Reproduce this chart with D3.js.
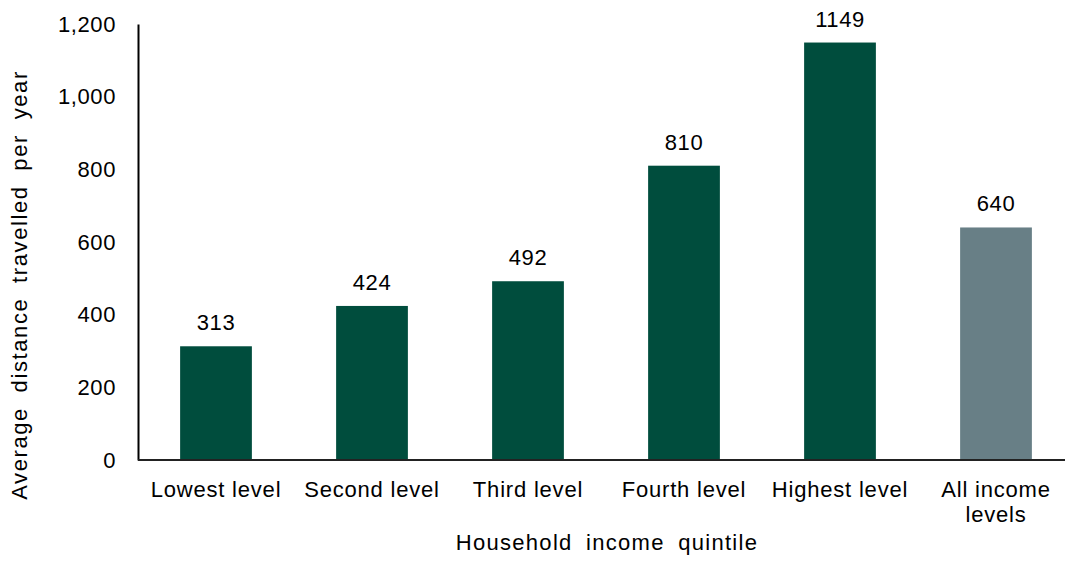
<!DOCTYPE html>
<html>
<head>
<meta charset="utf-8">
<script src="https://cdn.jsdelivr.net/npm/d3@7"></script>
<style>
  html, body { margin: 0; padding: 0; background: #fff; }
  text { font-family: "Liberation Sans", Arial, sans-serif; fill: #000; }
</style>
</head>
<body>
<svg id="chart" width="1065" height="561"></svg>
<script>
// Average distance travelled per year by household income quintile
const categories = ["Lowest level", "Second level", "Third level", "Fourth level", "Highest level", "All income levels"];
const categoryLines = [["Lowest level"], ["Second level"], ["Third level"], ["Fourth level"], ["Highest level"], ["All income", "levels"]];
const values = [313, 424, 492, 810, 1149, 640];
const yTicks = [0, 200, 400, 600, 800, 1000, 1200];

const svg = d3.select("#chart");
const plotLeft = 138, plotRight = 1074, plotTop = 24, plotBottom = 460;
const fontSize = 22;

const x = d3.scaleBand()
  .domain(categories)
  .range([plotLeft, plotRight])
  .paddingInner(0.54)
  .paddingOuter(0.27);

const y = d3.scaleLinear().domain([0, 1200]).range([plotBottom, plotTop]);

const barColor = (d, i) => i === categories.length - 1 ? "#687f86" : "#004d3d";

// bars
svg.append("g").selectAll("rect")
  .data(values)
  .join("rect")
  .attr("x", (d, i) => x(categories[i]))
  .attr("width", x.bandwidth())
  .attr("y", d => y(d))
  .attr("height", d => y(0) - y(d))
  .attr("fill", barColor);

// value labels
svg.append("g").selectAll("text")
  .data(values)
  .join("text")
  .attr("x", (d, i) => x(categories[i]) + x.bandwidth() / 2)
  .attr("y", d => y(d) - 16)
  .attr("text-anchor", "middle")
  .attr("font-size", fontSize)
  .attr("letter-spacing", 0.6)
  .text(d => d);

// y axis
const yAxis = svg.append("g")
  .attr("transform", `translate(${plotLeft},0)`)
  .call(d3.axisLeft(y).tickValues(yTicks).tickSize(0).tickPadding(22).tickFormat(d3.format(",")));
yAxis.select(".domain").attr("stroke", "#000").attr("stroke-width", 2);
yAxis.selectAll("text")
  .attr("font-size", fontSize)
  .attr("letter-spacing", 0.6)
  .attr("font-family", "Liberation Sans, Arial, sans-serif");

// x axis line
svg.append("line")
  .attr("x1", plotLeft).attr("x2", 1065)
  .attr("y1", y(0)).attr("y2", y(0))
  .attr("stroke", "#222").attr("stroke-width", 2);

// category labels
const catG = svg.append("g").selectAll("text")
  .data(categoryLines)
  .join("text")
  .attr("text-anchor", "middle")
  .attr("font-size", fontSize)
  .attr("letter-spacing", 0.8)
  .attr("transform", (d, i) => `translate(${x(categories[i]) + x.bandwidth() / 2},497)`);
catG.selectAll("tspan")
  .data(d => d)
  .join("tspan")
  .attr("x", 0)
  .attr("dy", (d, j) => j === 0 ? 0 : 25)
  .text(d => d);

// axis titles
svg.append("text")
  .attr("x", 607).attr("y", 550)
  .attr("text-anchor", "middle")
  .attr("font-size", fontSize)
  .attr("letter-spacing", 1.3)
  .attr("word-spacing", 6)
  .text("Household income quintile");

svg.append("text")
  .attr("transform", "translate(27,285) rotate(-90)")
  .attr("text-anchor", "middle")
  .attr("font-size", fontSize)
  .attr("letter-spacing", 1.6)
  .attr("word-spacing", 7)
  .text("Average distance travelled per year");
</script>
</body>
</html>
